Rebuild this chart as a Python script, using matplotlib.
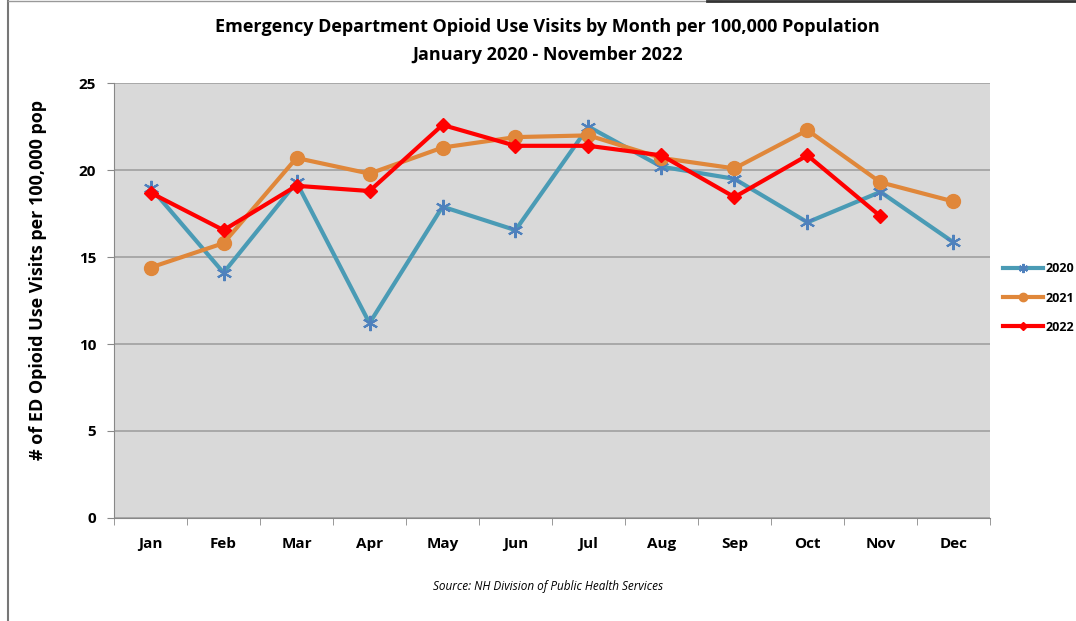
import numpy as np
import matplotlib.pyplot as plt
from matplotlib.lines import Line2D

plt.rcParams['font.family'] = ['Open Sans', 'DejaVu Sans']

months = ["Jan", "Feb", "Mar", "Apr", "May", "Jun", "Jul", "Aug", "Sep", "Oct", "Nov", "Dec"]
v2020 = [19.0, 14.1, 19.3, 11.2, 17.9, 16.55, 22.5, 20.2, 19.5, 17.0, 18.75, 15.85]
v2021 = [14.4, 15.8, 20.7, 19.8, 21.3, 21.9, 22.0, 20.7, 20.1, 22.3, 19.3, 18.2]
v2022 = [18.7, 16.55, 19.1, 18.8, 22.6, 21.4, 21.4, 20.85, 18.45, 20.85, 17.35]

fig = plt.figure(figsize=(10.76, 6.21), dpi=100)
ax = fig.add_axes([0.106, 0.166, 0.814, 0.700])

x = np.arange(len(months))
ax.plot(x, v2020, color='#4a9bb5', lw=3, marker=(6, 2, 0), ms=11, mec='#4f81bd', mew=1.5, label='2020', zorder=3)
ax.plot(x, v2021, color='#e0873a', lw=3, marker='o', ms=10, label='2021', zorder=4)
ax.plot(x[:len(v2022)], v2022, color='#ff0000', lw=3, marker='D', ms=7, label='2022', zorder=5)

ax.set_facecolor('#d9d9d9')
ax.set_xlim(-0.5, 11.5)
ax.set_ylim(0, 25)
ax.set_yticks([0, 5, 10, 15, 20, 25])
ax.yaxis.grid(True, color='#a0a0a0', lw=1.2)
ax.set_axisbelow(True)
ax.set_xticks(x)
ax.set_xticklabels(months, fontweight='bold', fontsize=11)
ax.set_xticks(np.arange(-0.5, 12, 1), minor=True)
ax.tick_params(axis='x', which='major', length=0, pad=14)
ax.tick_params(axis='x', which='minor', length=5, color='#888888')
ax.tick_params(axis='y', length=5, color='#888888', labelsize=11, pad=8)
for lab in ax.get_yticklabels():
    lab.set_fontweight('bold')
for s in ['top', 'right']:
    ax.spines[s].set_visible(False)
for s in ['left', 'bottom']:
    ax.spines[s].set_color('#888888')

ax.set_ylabel('# of ED Opioid Use Visits per 100,000 pop', fontweight='bold', fontsize=13)
ax.yaxis.set_label_coords(-0.077, 0.547)

fig.text(0.509, 0.957, 'Emergency Department Opioid Use Visits by Month per 100,000 Population',
         ha='center', va='center', fontsize=13, fontweight='bold')
fig.text(0.509, 0.912, 'January 2020 - November 2022', ha='center', va='center', fontsize=13, fontweight='bold')
fig.text(0.509, 0.055, 'Source: NH Division of Public Health Services', ha='center', va='center',
         fontsize=8.5, style='italic')

leg = fig.legend(loc='center left', bbox_to_anchor=(0.922, 0.52), frameon=False,
                 prop={'weight': 'bold', 'size': 9}, handlelength=3.2, handletextpad=0.2,
                 labelspacing=1.3, markerscale=0.6)

# outer frame lines
fig.add_artist(Line2D([0.007, 0.007], [0, 0.998], color='#777777', lw=1.5))
fig.add_artist(Line2D([0.007, 0.67], [0.998, 0.998], color='#999999', lw=1))
fig.add_artist(Line2D([0.657, 1.0], [0.999, 0.999], color='#333333', lw=2))

fig.savefig('out.png', dpi=100)
